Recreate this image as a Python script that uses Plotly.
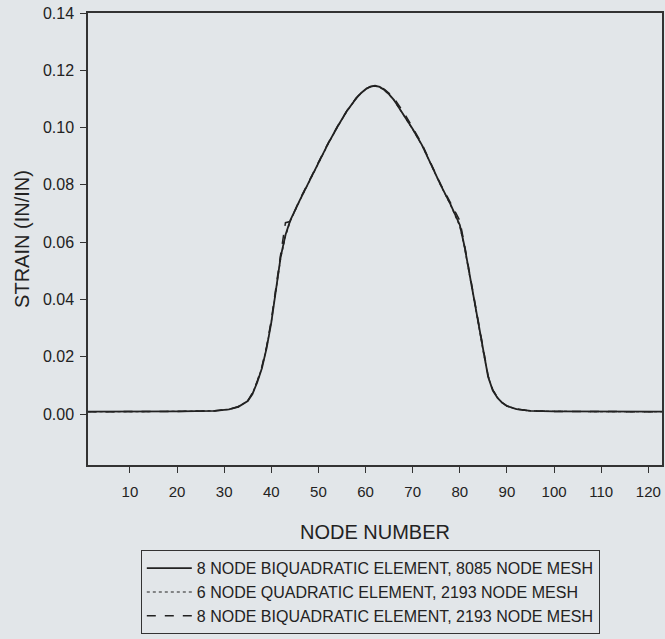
import plotly.graph_objects as go

# ---- data ----
node = [1, 10, 20, 28, 31, 33, 35, 36, 37, 38, 39, 40, 41, 42, 43, 44, 46, 48, 50, 52,
        54, 56, 58, 59, 60, 61, 62, 63, 64, 65, 66, 68, 70, 72, 74, 76, 78, 80, 81, 82,
        83, 84, 85, 86, 87, 88, 89, 90, 92, 95, 100, 110, 123]

strain_8node_8085 = [0.0008, 0.0008, 0.0009, 0.0011, 0.0016, 0.0025, 0.0045, 0.0070, 0.0110, 0.0160,
                     0.0230, 0.0320, 0.0440, 0.0550, 0.0625, 0.0675, 0.0745, 0.0812, 0.0877, 0.0942,
                     0.1002, 0.1057, 0.1102, 0.1120, 0.1134, 0.1143, 0.1146, 0.1142, 0.1131, 0.1116,
                     0.1097, 0.1048, 0.0995, 0.0938, 0.0866, 0.0797, 0.0733, 0.0660, 0.0585, 0.0495,
                     0.0400, 0.0310, 0.0215, 0.0130, 0.0082, 0.0056, 0.0039, 0.0028, 0.0017, 0.0011,
                     0.0009, 0.0008, 0.0008]

strain_6node_2193 = [0.0008, 0.0008, 0.0009, 0.0011, 0.0016, 0.0025, 0.0046, 0.0072, 0.0112, 0.0162,
                     0.0232, 0.0322, 0.0438, 0.0545, 0.0620, 0.0672, 0.0744, 0.0811, 0.0876, 0.0941,
                     0.1001, 0.1056, 0.1101, 0.1119, 0.1133, 0.1142, 0.1145, 0.1141, 0.1130, 0.1115,
                     0.1096, 0.1047, 0.0994, 0.0937, 0.0865, 0.0796, 0.0731, 0.0655, 0.0580, 0.0493,
                     0.0398, 0.0308, 0.0214, 0.0131, 0.0083, 0.0057, 0.0039, 0.0028, 0.0017, 0.0011,
                     0.0009, 0.0008, 0.0008]

strain_8node_2193 = [0.0008, 0.0008, 0.0009, 0.0011, 0.0016, 0.0026, 0.0047, 0.0074, 0.0114, 0.0165,
                     0.0236, 0.0328, 0.0450, 0.0560, 0.0668, 0.0672, 0.0748, 0.0815, 0.0880, 0.0944,
                     0.1003, 0.1058, 0.1103, 0.1121, 0.1135, 0.1143, 0.1146, 0.1143, 0.1133, 0.1120,
                     0.1103, 0.1055, 0.1000, 0.0942, 0.0870, 0.0800, 0.0738, 0.0675, 0.0590, 0.0500,
                     0.0405, 0.0315, 0.0220, 0.0134, 0.0084, 0.0058, 0.0040, 0.0028, 0.0017, 0.0011,
                     0.0009, 0.0008, 0.0008]

series_names = ["8 NODE BIQUADRATIC ELEMENT, 8085 NODE MESH",
                "6 NODE QUADRATIC ELEMENT, 2193 NODE MESH",
                "8 NODE BIQUADRATIC ELEMENT, 2193 NODE MESH"]

x_ticks = [10, 20, 30, 40, 50, 60, 70, 80, 90, 100, 110, 120]
y_ticks = [0.00, 0.02, 0.04, 0.06, 0.08, 0.10, 0.12, 0.14]
y_tick_text = ["0.00", "0.02", "0.04", "0.06", "0.08", "0.10", "0.12", "0.14"]

# ---- figure ----
BG = "#e2e6e9"
INK = "#222222"
FONT = "Liberation Sans, Arial, sans-serif"

fig = go.Figure()
fig.add_trace(go.Scatter(x=node, y=strain_8node_8085, mode="lines", name=series_names[0],
                         line=dict(color=INK, width=1.8, dash="solid")))
fig.add_trace(go.Scatter(x=node, y=strain_6node_2193, mode="lines", name=series_names[1],
                         line=dict(color=INK, width=1.2, dash="dot")))
fig.add_trace(go.Scatter(x=node, y=strain_8node_2193, mode="lines", name=series_names[2],
                         line=dict(color=INK, width=1.5, dash="dash")))

fig.update_layout(
    width=665, height=639,
    margin=dict(l=88, r=3, t=13, b=174, autoexpand=False),
    paper_bgcolor=BG, plot_bgcolor=BG,
    font=dict(family=FONT, color=INK),
    showlegend=True,
    legend=dict(
        x=0.092, y=-0.1887, xanchor="left", yanchor="top",
        bgcolor=BG, bordercolor="#333333", borderwidth=1,
        font=dict(size=16, family=FONT, color=INK),
        itemwidth=45,
        entrywidth=412, entrywidthmode="pixels",
        tracegroupgap=0,
    ),
)

fig.update_xaxes(
    range=[1.1, 122.9], tickmode="array", tickvals=x_ticks,
    ticks="outside", ticklen=6, tickwidth=1.2, tickcolor="#333333",
    showline=True, linecolor="#333333", linewidth=1.5, mirror=True,
    showgrid=False, zeroline=False, automargin=False,
    tickfont=dict(size=15, family=FONT, color=INK),
    ticklabelstandoff=6,
    title=dict(text="NODE NUMBER", font=dict(size=20, family=FONT, color=INK), standoff=26),
)
fig.update_yaxes(
    range=[-0.0178, 0.14], tickmode="array", tickvals=y_ticks, ticktext=y_tick_text,
    ticks="outside", ticklen=6, tickwidth=1.2, tickcolor="#333333",
    showline=True, linecolor="#333333", linewidth=1.5, mirror=True,
    showgrid=False, zeroline=False, automargin=False,
    tickfont=dict(size=16, family=FONT, color=INK),
    ticklabelstandoff=3,
    title=dict(text="STRAIN (IN/IN)", font=dict(size=20, family=FONT, color=INK), standoff=8),
)

page_css = (
    "document.documentElement.style.margin='0';"
    "document.documentElement.style.overflow='hidden';"
    "document.documentElement.style.background='" + BG + "';"
    "document.body.style.margin='0';"
    "document.body.style.overflow='hidden';"
    "document.body.style.background='" + BG + "';"
)

fig.write_html("out.html", post_script=page_css, config={"displayModeBar": False})
